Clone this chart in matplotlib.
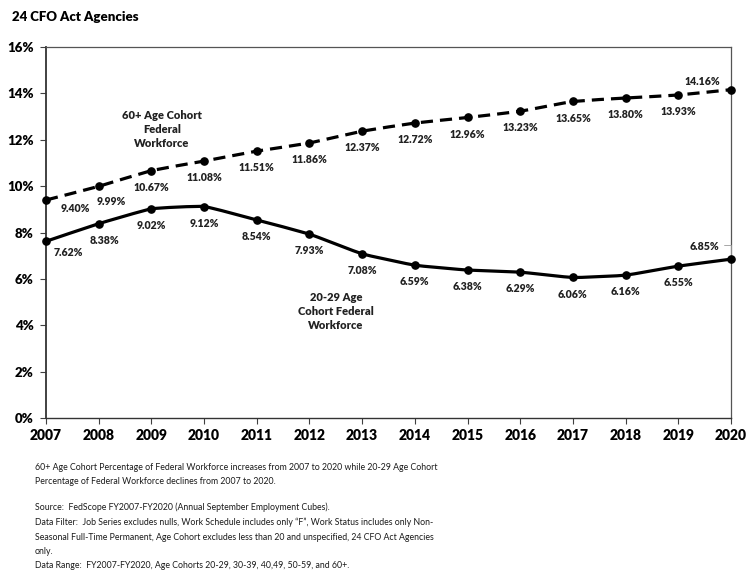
import matplotlib
matplotlib.use("Agg")
import matplotlib.pyplot as plt
import numpy as np
from matplotlib.path import Path
from matplotlib.patches import PathPatch

plt.rcParams['font.family'] = ['Lato', 'DejaVu Sans']

years = [2007, 2008, 2009, 2010, 2011, 2012, 2013, 2014, 2015, 2016, 2017, 2018, 2019, 2020]
age_60_plus = [9.40, 9.99, 10.67, 11.08, 11.51, 11.86, 12.37, 12.72, 12.96, 13.23, 13.65, 13.80, 13.93, 14.16]
age_20_29 = [7.62, 8.38, 9.02, 9.12, 8.54, 7.93, 7.08, 6.59, 6.38, 6.29, 6.06, 6.16, 6.55, 6.85]
y_ticks = [0, 2, 4, 6, 8, 10, 12, 14, 16]

title = "24 CFO Act Agencies"
label_60 = "60+ Age Cohort\nFederal\nWorkforce"
label_20 = "20-29 Age\nCohort Federal\nWorkforce"
notes = [
    "60+ Age Cohort Percentage of Federal Workforce increases from 2007 to 2020 while 20-29 Age Cohort",
    "Percentage of Federal Workforce declines from 2007 to 2020.",
    None,
    "Source:  FedScope FY2007-FY2020 (Annual September Employment Cubes).",
    "Data Filter:  Job Series excludes nulls, Work Schedule includes only \u201cF\u201d, Work Status includes only Non-",
    "Seasonal Full-Time Permanent, Age Cohort excludes less than 20 and unspecified, 24 CFO Act Agencies",
    "only.",
    "Data Range:  FY2007-FY2020, Age Cohorts 20-29, 30-39, 40,49, 50-59, and 60+.",
]


def smooth_path(xs, ys, tension=0.06):
    """Cubic Bezier path through the points (spreadsheet-style smoothed line)."""
    xs = np.asarray(xs, float)
    ys = np.asarray(ys, float)
    n = len(xs)
    verts = [(xs[0], ys[0])]
    codes = [Path.MOVETO]
    for i in range(n - 1):
        p0 = (xs[max(i - 1, 0)], ys[max(i - 1, 0)])
        p1 = (xs[i], ys[i])
        p2 = (xs[i + 1], ys[i + 1])
        p3 = (xs[min(i + 2, n - 1)], ys[min(i + 2, n - 1)])
        c1 = (p1[0] + (p2[0] - p0[0]) * tension, p1[1] + (p2[1] - p0[1]) * tension)
        c2 = (p2[0] - (p3[0] - p1[0]) * tension, p2[1] - (p3[1] - p1[1]) * tension)
        verts += [c1, c2, p2]
        codes += [Path.CURVE4] * 3
    return Path(verts, codes)


fig = plt.figure(figsize=(7.48, 5.76), dpi=100)
ax = fig.add_axes([46 / 748, 1 - 418 / 576, (731 - 46) / 748, (418 - 47) / 576])

# 60+ cohort: dashed smoothed line with round markers
ax.add_patch(PathPatch(smooth_path(years, age_60_plus), fill=False, edgecolor='black',
                       lw=2.3, linestyle=(0, (3.8, 2.2)), capstyle='butt', zorder=3))
ax.plot(years, age_60_plus, linestyle='none', marker='o', ms=5.2, color='black', zorder=4, clip_on=False)

# 20-29 cohort: solid smoothed line with round markers
ax.add_patch(PathPatch(smooth_path(years, age_20_29), fill=False, edgecolor='black',
                       lw=2.3, zorder=3))
ax.plot(years, age_20_29, linestyle='none', marker='o', ms=5.2, color='black', zorder=4, clip_on=False)

lab_kw = dict(ha='center', va='center', fontsize=7.6, fontweight='heavy', color='#222222')

# value labels, offsets in points relative to each marker
off60 = [(21, -6), (9, -11)] + [(0, -12)] * 11 + [(-21, 6)]
off20 = [(16, -8), (4, -12)] + [(0, -12)] * 11 + [(-19, 9)]
for x, v, o in zip(years, age_60_plus, off60):
    ax.annotate(f"{v:.2f}%", (x, v), xytext=o, textcoords='offset points', **lab_kw)
for x, v, o in zip(years, age_20_29, off20):
    ax.annotate(f"{v:.2f}%", (x, v), xytext=o, textcoords='offset points', **lab_kw)

# short leader for the last 20-29 label
ax.annotate("", (years[-1], age_20_29[-1]), xytext=(-5, 10), textcoords='offset points',
            arrowprops=dict(arrowstyle='-', color='#999999', lw=0.6,
                            connectionstyle='angle,angleA=0,angleB=90,rad=0', shrinkA=0, shrinkB=3))

ax.text(2009.2, 12.45, label_60, ha='center', va='center', fontsize=8, fontweight='heavy',
        color='#222222', linespacing=1.35)
ax.text(2012.5, 4.6, label_20, ha='center', va='center', fontsize=8, fontweight='heavy',
        color='#222222', linespacing=1.35)

ax.set_xlim(years[0], years[-1])
ax.set_ylim(0, 16)
ax.set_xticks(years)
ax.set_xticklabels([str(y) for y in years])
ax.set_yticks(y_ticks)
ax.set_yticklabels([f"{t}%" for t in y_ticks])
ax.tick_params(axis='both', direction='out', length=4, width=0.8, color='#404040')
ax.tick_params(axis='x', labelsize=10, pad=4)
ax.tick_params(axis='y', labelsize=9.5, pad=5)
for lbl in ax.get_xticklabels() + ax.get_yticklabels():
    lbl.set_fontweight('heavy')

ax.spines['left'].set_color('#333333')
ax.spines['left'].set_linewidth(1.3)
ax.spines['bottom'].set_color('#333333')
ax.spines['bottom'].set_linewidth(1.0)
ax.spines['top'].set_color('#555555')
ax.spines['top'].set_linewidth(0.9)
ax.spines['right'].set_color('#555555')
ax.spines['right'].set_linewidth(0.9)

fig.text(12 / 748, 1 - 17 / 576, title, ha='left', va='center', fontsize=9.5, fontweight='heavy')

ys_px = [467, 482, None, 507, 522, 537, 551, 566]
for txt, yp in zip(notes, ys_px):
    if txt is None:
        continue
    fig.text(35 / 748, 1 - yp / 576, txt, ha='left', va='center', fontsize=6.3,
             color='#1a1a1a')

fig.savefig("out.png", dpi=100)
